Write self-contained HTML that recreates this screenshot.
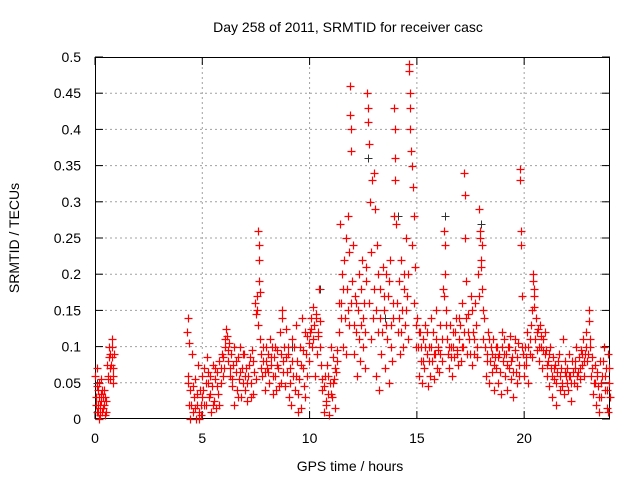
<!DOCTYPE html>
<html><head><meta charset="utf-8"><style>
html,body{margin:0;padding:0;background:#fff}
svg{display:block}
text{font-family:"Liberation Sans",sans-serif;fill:#000}
</style></head><body>
<svg id="chart" width="640" height="480" viewBox="0 0 640 480" xmlns="http://www.w3.org/2000/svg">
<rect width="640" height="480" fill="#fff"/>
<text x="348" y="32" font-size="14" text-anchor="middle">Day 258 of 2011, SRMTID for receiver casc</text>
<g id="grid"></g>
<g id="axes"></g>
<g id="marksB"></g>
<g id="marksA"></g>
<text transform="translate(19,238) rotate(-90)" font-size="14" text-anchor="middle">SRMTID / TECUs</text>
<text x="350" y="471" font-size="14" text-anchor="middle">GPS time / hours</text>
</svg>
<script>
const xTicks=[0,5,10,15,20];
const yTicks=[0,0.05,0.1,0.15,0.2,0.25,0.3,0.35,0.4,0.45,0.5];
const yTickLabels=["0","0.05","0.1","0.15","0.2","0.25","0.3","0.35","0.4","0.45","0.5"];
const hours=[
0.02,0.05,0.08,0.1,0.12,0.15,0.18,0.2,0.22,0.25,0.28,0.3,0.33,0.36,0.4,0.43,0.46,0.5,0.55,0.6,0.65,0.68,0.7,0.72,0.75,0.78,0.8,0.82,0.85,0.88,
4.3,4.32,4.35,4.38,4.4,4.42,4.45,4.5,4.55,4.6,4.65,4.7,4.75,4.8,4.85,4.9,4.95,5.0,
5.05,5.1,5.15,5.2,5.25,5.3,5.35,5.4,5.45,5.5,5.55,5.6,5.65,5.7,5.75,5.8,5.85,5.9,5.95,
6.0,6.05,6.1,6.15,6.2,6.25,6.3,6.35,6.4,6.45,6.5,6.55,6.6,6.65,6.7,6.75,6.8,6.85,6.9,6.95,
7.0,7.05,7.1,7.15,7.2,7.25,7.3,7.35,7.4,7.45,7.5,7.55,7.58,7.6,7.62,7.64,7.66,7.68,7.7,7.75,7.8,7.85,7.9,7.95,
8.0,8.05,8.1,8.15,8.2,8.25,8.3,8.35,8.4,8.45,8.5,8.55,8.6,8.65,8.7,8.72,8.75,8.8,8.85,8.9,8.95,
9.0,9.05,9.1,9.15,9.2,9.25,9.3,9.35,9.4,9.45,9.5,9.55,9.6,9.65,9.7,9.75,9.8,9.85,9.9,9.95,
10.0,10.05,10.1,10.15,10.2,10.25,10.3,10.35,10.4,10.45,10.5,10.55,
10.6,10.65,10.7,10.75,10.8,10.85,10.9,10.95,11.0,11.05,11.1,11.15,11.2,11.25,11.3,
11.35,11.4,11.45,11.5,11.55,11.6,11.65,11.7,11.75,11.8,11.85,11.88,11.9,11.92,11.95,11.98,
12.0,12.05,12.1,12.15,12.2,12.25,12.3,12.35,12.4,12.45,12.5,12.55,12.6,12.65,12.68,12.7,12.72,12.75,12.8,12.85,12.9,12.95,
13.0,13.05,13.1,13.15,13.2,13.25,13.3,13.35,13.4,13.45,13.5,13.55,13.6,13.65,13.7,13.75,13.8,13.85,13.9,13.95,13.97,13.99,
14.0,14.05,14.1,14.15,14.2,14.25,14.3,14.35,14.4,14.45,14.5,14.55,14.6,14.62,14.64,14.66,14.68,14.7,14.72,14.75,14.8,14.85,14.9,14.95,
15.0,15.05,15.1,15.15,15.2,15.25,15.3,15.35,15.4,15.45,15.5,15.55,15.6,15.65,15.7,15.75,15.8,15.85,15.9,15.95,
16.0,16.05,16.1,16.15,16.2,16.25,16.3,16.33,16.35,16.4,16.45,16.5,16.55,16.6,16.65,16.7,16.75,16.8,16.85,16.9,16.95,
17.0,17.05,17.1,17.15,17.2,17.22,17.25,17.3,17.35,17.4,17.45,17.5,17.55,17.6,17.65,17.7,17.75,17.8,17.85,17.9,17.95,17.98,
18.0,18.05,18.1,18.15,18.2,18.25,18.3,18.35,18.4,18.45,18.5,18.55,18.6,18.65,18.7,18.75,18.8,18.85,18.9,18.95,
19.0,19.05,19.1,19.15,19.2,19.25,19.3,19.35,19.4,19.45,19.5,19.55,19.6,19.65,19.7,19.75,19.8,19.82,19.84,19.86,19.9,19.95,
20.0,20.05,20.1,20.15,20.2,20.25,20.3,20.35,20.4,20.42,20.44,20.46,20.5,20.55,20.6,20.65,20.7,20.75,20.8,20.85,20.9,20.95,
21.0,21.05,21.1,21.15,21.2,21.25,21.3,21.35,21.4,21.45,21.5,21.55,21.6,21.65,21.7,21.75,21.8,21.85,21.9,21.95,
22.0,22.05,22.1,22.15,22.2,22.25,22.3,22.35,22.4,22.45,22.5,22.55,22.6,22.65,22.7,22.75,22.8,22.85,22.9,22.95,
23.0,23.02,23.05,23.1,23.15,23.2,23.25,23.3,23.35,23.4,23.45,23.5,23.55,23.6,23.65,23.7,23.75,23.8,23.85,23.9,23.95,23.98];
const tecu=[
0.06,0.03,0.01,0.07,0.02,0.04,0.0,0.05,0.02,0.015,0.035,0.055,0.01,0.03,0.02,0.04,0.005,0.025,0.075,0.06,0.1,0.07,0.09,0.055,0.075,0.085,0.11,0.07,0.05,0.09,
0.12,0.14,0.06,0.02,0.105,0.0,0.04,0.09,0.01,0.03,0.055,0.0,0.02,0.075,0.01,0.04,0.005,0.03,
0.04,0.07,0.02,0.085,0.05,0.03,0.06,0.01,0.045,0.075,0.025,0.055,0.015,0.065,0.035,0.08,0.05,0.09,0.06,
0.07,0.1,0.125,0.115,0.08,0.105,0.06,0.09,0.045,0.075,0.02,0.065,0.04,0.085,0.055,0.1,0.03,0.07,0.05,0.09,
0.04,0.07,0.025,0.06,0.085,0.05,0.095,0.035,0.065,0.16,0.145,0.17,0.13,0.26,0.24,0.22,0.19,0.175,0.11,0.09,0.06,0.08,0.04,0.1,
0.07,0.09,0.05,0.11,0.075,0.1,0.035,0.085,0.06,0.04,0.095,0.07,0.12,0.05,0.15,0.14,0.08,0.1,0.045,0.125,0.065,
0.09,0.03,0.07,0.02,0.11,0.06,0.04,0.13,0.08,0.01,0.055,0.1,0.015,0.14,0.07,0.045,0.12,0.09,0.06,0.105,
0.12,0.14,0.1,0.155,0.13,0.06,0.145,0.09,0.115,0.18,0.135,0.075,
0.04,0.01,0.06,0.025,0.075,0.035,0.005,0.05,0.1,0.03,0.085,0.055,0.015,0.065,0.095,
0.12,0.27,0.16,0.2,0.1,0.22,0.14,0.25,0.18,0.28,0.13,0.46,0.42,0.4,0.37,0.19,
0.24,0.09,0.17,0.12,0.06,0.15,0.2,0.08,0.13,0.22,0.1,0.16,0.07,0.19,0.45,0.43,0.41,0.38,0.3,0.11,0.33,0.14,
0.34,0.29,0.06,0.24,0.12,0.04,0.18,0.09,0.21,0.15,0.07,0.2,0.11,0.17,0.05,0.22,0.13,0.08,0.16,0.43,0.4,0.36,
0.33,0.27,0.12,0.19,0.09,0.22,0.15,0.1,0.2,0.13,0.25,0.17,0.11,0.49,0.48,0.45,0.43,0.4,0.37,0.35,0.32,0.28,0.21,0.1,
0.14,0.1,0.06,0.12,0.08,0.05,0.11,0.07,0.13,0.09,0.045,0.1,0.06,0.14,0.08,0.12,0.055,0.09,0.15,0.07,
0.1,0.065,0.13,0.08,0.18,0.26,0.24,0.2,0.15,0.11,0.09,0.07,0.13,0.1,0.06,0.12,0.085,0.14,0.095,0.075,0.11,
0.13,0.08,0.16,0.1,0.34,0.31,0.25,0.19,0.09,0.145,0.11,0.17,0.075,0.12,0.09,0.16,0.13,0.085,0.2,0.29,0.26,0.22,
0.21,0.18,0.11,0.14,0.06,0.09,0.12,0.05,0.08,0.1,0.065,0.11,0.04,0.085,0.07,0.1,0.05,0.09,0.035,0.12,
0.08,0.11,0.06,0.09,0.04,0.1,0.07,0.115,0.055,0.085,0.03,0.095,0.065,0.05,0.105,0.075,0.345,0.33,0.26,0.24,0.17,0.09,
0.06,0.1,0.075,0.12,0.05,0.09,0.13,0.085,0.2,0.19,0.17,0.155,0.11,0.14,0.095,0.125,0.08,0.13,0.1,0.07,0.11,0.09,
0.095,0.06,0.08,0.045,0.1,0.07,0.03,0.085,0.055,0.075,0.02,0.065,0.09,0.04,0.07,0.05,0.11,0.035,0.08,0.06,
0.07,0.04,0.09,0.06,0.025,0.08,0.05,0.07,0.1,0.045,0.065,0.085,0.055,0.095,0.075,0.11,0.06,0.09,0.12,0.08,
0.15,0.135,0.1,0.06,0.085,0.035,0.05,0.075,0.02,0.065,0.045,0.01,0.08,0.03,0.06,0.1,0.04,0.07,0.015,0.09,0.05,0.03];
const hours2=[
0.03,0.07,0.13,0.17,0.23,0.27,0.32,0.38,0.45,0.52,0.62,0.67,0.77,0.84,
4.33,4.47,4.57,4.67,4.77,4.83,4.92,4.97,
5.08,5.18,5.28,5.38,5.48,5.58,5.68,5.78,5.88,5.98,
6.08,6.18,6.28,6.38,6.48,6.58,6.68,6.78,6.88,6.98,
7.08,7.18,7.28,7.38,7.48,7.55,7.72,7.82,7.92,7.98,
8.08,8.18,8.28,8.38,8.48,8.58,8.68,8.78,8.88,8.98,
9.08,9.18,9.28,9.38,9.48,9.58,9.68,9.78,9.88,9.98,
10.08,10.18,10.28,10.38,10.48,10.58,10.68,10.78,10.88,10.98,11.08,11.18,11.28,
11.38,11.48,11.58,11.68,11.78,11.83,11.93,
12.08,12.18,12.28,12.38,12.48,12.58,12.62,12.78,12.88,12.98,
13.08,13.18,13.28,13.38,13.48,13.58,13.68,13.78,13.88,13.93,
14.08,14.18,14.28,14.38,14.48,14.58,14.78,14.88,14.98,
15.08,15.18,15.28,15.38,15.48,15.58,15.68,15.78,15.88,15.98,
16.08,16.18,16.28,16.38,16.48,16.58,16.68,16.78,16.88,16.98,
17.08,17.18,17.28,17.38,17.48,17.58,17.68,17.78,17.88,17.93,
18.03,18.08,18.18,18.28,18.38,18.48,18.58,18.68,18.78,18.88,18.98,
19.08,19.18,19.28,19.38,19.48,19.58,19.68,19.78,19.88,19.98,
20.08,20.18,20.28,20.38,20.48,20.58,20.68,20.78,20.88,20.98,
21.08,21.18,21.28,21.38,21.48,21.58,21.68,21.78,21.88,21.98,
22.08,22.18,22.28,22.38,22.48,22.58,22.68,22.78,22.88,22.98,
23.08,23.18,23.28,23.38,23.48,23.58,23.68,23.78,23.88,23.93,23.97];
const tecu2=[
0.02,0.045,0.01,0.03,0.005,0.025,0.04,0.015,0.03,0.01,0.055,0.085,0.1,0.06,
0.05,0.02,0.045,0.015,0.035,0.0,0.02,0.06,
0.02,0.05,0.065,0.035,0.02,0.07,0.045,0.02,0.07,0.085,
0.11,0.095,0.07,0.055,0.1,0.08,0.03,0.065,0.09,0.06,
0.05,0.075,0.03,0.08,0.055,0.15,0.07,0.1,0.065,0.08,
0.065,0.085,0.06,0.1,0.075,0.045,0.09,0.065,0.085,0.1,
0.05,0.08,0.1,0.06,0.035,0.075,0.095,0.03,0.115,0.08,
0.125,0.11,0.14,0.12,0.1,0.055,0.045,0.02,0.06,0.035,0.05,0.07,0.08,
0.16,0.14,0.18,0.09,0.15,0.23,0.16,
0.13,0.16,0.11,0.18,0.14,0.12,0.21,0.16,0.23,0.18,
0.15,0.2,0.14,0.12,0.17,0.13,0.19,0.1,0.14,0.28,
0.16,0.14,0.12,0.18,0.15,0.2,0.24,0.16,0.13,
0.12,0.1,0.08,0.1,0.12,0.08,0.1,0.09,0.11,0.095,
0.09,0.11,0.17,0.13,0.1,0.085,0.1,0.12,0.09,0.14,
0.1,0.12,0.14,0.12,0.09,0.15,0.11,0.1,0.17,0.25,
0.24,0.15,0.1,0.08,0.11,0.09,0.075,0.1,0.085,0.065,0.1,
0.09,0.075,0.1,0.08,0.065,0.11,0.085,0.06,0.1,0.075,
0.085,0.1,0.11,0.15,0.18,0.12,0.1,0.115,0.095,0.12,
0.075,0.09,0.06,0.07,0.05,0.08,0.06,0.045,0.065,0.05,
0.06,0.05,0.065,0.08,0.06,0.07,0.09,0.08,0.1,0.09,
0.11,0.07,0.05,0.06,0.03,0.05,0.08,0.06,0.04,0.01,0.07];
const hoursB=[0.1,10.5,11.5,12.7,14.1,16.3,17.2,17.25,18.0,20.4,9.2,13.5];
const tecuB=[0.05,0.18,0.2,0.36,0.28,0.28,0.34,0.31,0.27,0.2,0.1,0.14];

const L=95,R=610,T=57,B=419,XMAX=24,YMAX=0.5;
function xs(h){return L+(R-L)*h/XMAX;}
function ys(v){return B-(B-T)*v/YMAX;}
const NS='http://www.w3.org/2000/svg';
function mk(tag,attrs,parent){const e=document.createElementNS(NS,tag);for(const k in attrs)e.setAttribute(k,attrs[k]);parent.appendChild(e);return e;}
const grid=document.getElementById('grid'),axes=document.getElementById('axes');
yTicks.forEach((v,i)=>{
  const y=ys(v);
  if(i>0&&i<yTicks.length-1){const g=mk('line',{x1:L,x2:R,y1:y,y2:y,stroke:'#a0a0a0','stroke-dasharray':'2,3','stroke-width':1},grid);
  
  }
  mk('line',{x1:L,x2:L+8,y1:y,y2:y,stroke:'#000'},axes);
  mk('line',{x1:R-8,x2:R,y1:y,y2:y,stroke:'#000'},axes);
  const t=mk('text',{x:L-14,y:y+5,'font-size':14,'text-anchor':'end'},axes);
  t.textContent=yTickLabels[i];
  
  
});
xTicks.forEach((h,i)=>{
  const x=xs(h);
  if(i>0){const g=mk('line',{x1:x,x2:x,y1:T,y2:B,stroke:'#a0a0a0','stroke-dasharray':'2,3','stroke-width':1},grid);
  
  }
  mk('line',{x1:x,x2:x,y1:B,y2:B-8,stroke:'#000'},axes);
  mk('line',{x1:x,x2:x,y1:T,y2:T+8,stroke:'#000'},axes);
  const t=mk('text',{x:x,y:B+24,'font-size':14,'text-anchor':'middle'},axes);
  t.textContent=String(h);
  
  
});
const frame=mk('rect',{x:L+0.5,y:T+0.5,width:R-L-1,height:B-T-1,fill:'none',stroke:'#000','stroke-width':1},axes);


function plus(h,v){const x=Math.round(xs(h))+0.5,y=Math.round(ys(v))+0.5;return `M${x-4} ${y}H${x+4}M${x} ${y-4}V${y+4}`;}
let dB='';hoursB.forEach((h,i)=>{dB+=plus(h,tecuB[i]);});
const pB=mk('path',{d:dB,stroke:'#333',fill:'none','stroke-width':1},document.getElementById('marksB'));


let dA='';hours.forEach((h,i)=>{dA+=plus(h,tecu[i]);});
hours2.forEach((h,i)=>{dA+=plus(h,tecu2[i]);});
const pA=mk('path',{d:dA,stroke:'#ff0000',fill:'none','stroke-width':1.2},document.getElementById('marksA'));


</script>
</body></html>
